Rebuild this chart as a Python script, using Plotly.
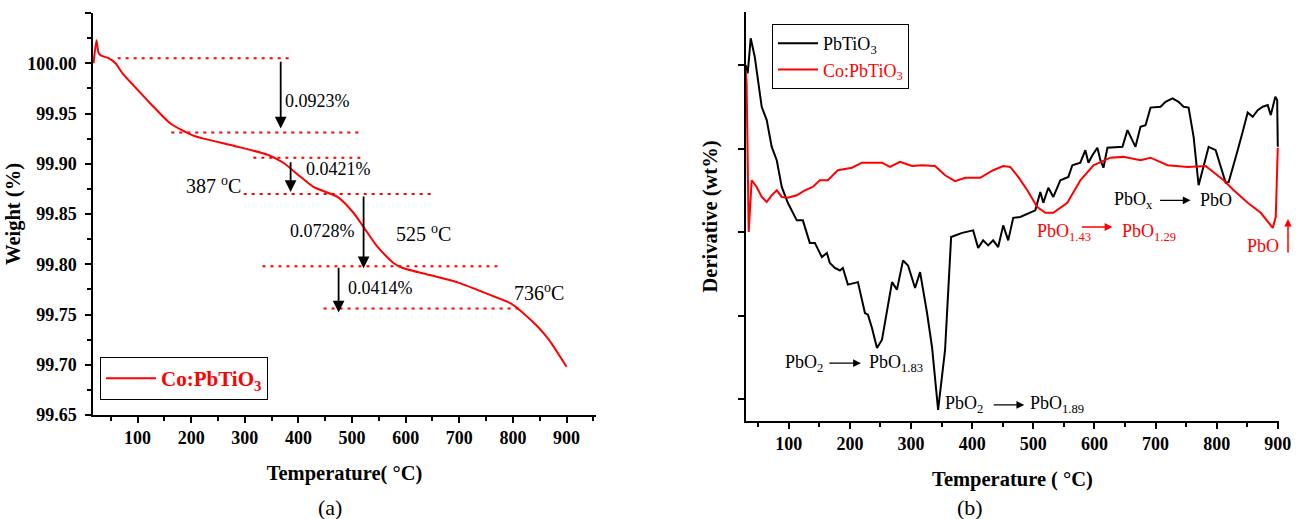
import plotly.graph_objects as go

# ---------------- (a) TGA weight curve of Co:PbTiO3 ----------------
tga_temp = [18, 23.5, 27, 31, 46, 59, 72, 92.5, 124, 161.5, 204, 279, 342.5, 372, 404,
            428, 473, 503, 521.6, 548, 578, 596, 647, 697, 745.5, 796, 820, 846, 867, 900]
tga_weight = [100.000, 100.023, 100.011, 100.008, 100.005, 100.000, 99.990, 99.978, 99.960,
              99.940, 99.928, 99.918, 99.909, 99.901, 99.887, 99.877, 99.867, 99.851, 99.837,
              99.817, 99.801, 99.796, 99.789, 99.782, 99.772, 99.761, 99.751, 99.738, 99.725,
              99.698]

# dotted step levels (weight) and their temperature extents
step_levels = [100.005, 99.931, 99.906, 99.870, 99.798, 99.756]
step_start = [63, 163, 316, 298, 333, 447]
step_end = [391, 516, 516, 647, 772, 815]

# loss arrows: temperature, weight from, weight to
loss_arrow_temp = [367, 385.5, 521.6, 475]
loss_arrow_from = [100.003, 99.903, 99.869, 99.798]
loss_arrow_to = [99.935, 99.872, 99.796, 99.752]

# text labels in panel (a)
a_labels = ["0.0923%", "0.0421%", "387 <sup>o</sup>C", "0.0728%", "525 <sup>o</sup>C",
            "0.0414%", "736<sup>o</sup>C"]
a_label_temp = [372, 410, 242, 445, 634, 488, 848]
a_label_weight = [99.962, 99.895, 99.879, 99.833, 99.831, 99.776, 99.772]
a_label_anchor = ["left", "left", "center", "center", "center", "left", "center"]
a_label_size = [18, 18, 20, 18, 20, 18, 20]

# ---------------- (b) DTG curves ----------------
pbt_temp = [29.5, 32.8, 37.7, 44.3, 55.7, 63.9, 72.1, 80.3, 88.5, 98.4, 113.1, 123, 134.4,
            142.6, 154.1, 162.3, 167.2, 175.4, 183.6, 188.5, 196.7, 213.1, 224.6, 229.5,
            236.1, 244.3, 252.5, 268.9, 277, 286.9, 295.1, 306.6, 314.8, 326.2, 334.4,
            344.3, 355.7, 365.6, 383.6, 401.6, 409.8, 418, 426.2, 434.4, 442.6, 450.8, 459,
            467.2, 478.7, 495.1, 503.3, 511.5, 516.4, 524.6, 532.8, 544.3, 557.4, 563.9,
            577, 585.2, 590.2, 596.7, 604.9, 609.8, 614.8, 621.3, 645.9, 654.1, 662.3,
            667.2, 675.4, 683.6, 691.8, 708.2, 716.4, 727.9, 737.7, 745.9, 754.1, 762.3,
            770.5, 778.7, 786.9, 798.4, 806.6, 814.8, 819.7, 827.9, 834.4, 842.6, 850.8,
            859, 867.2, 875.4, 883.6, 888.5, 896, 899, 900]
pbt_dtg = [4.00, 3.90, 4.32, 4.10, 3.50, 3.34, 3.02, 2.86, 2.54, 2.35, 2.14, 2.14, 1.87,
           1.87, 1.70, 1.75, 1.63, 1.57, 1.54, 1.57, 1.37, 1.40, 1.03, 1.01, 0.85, 0.61,
           0.71, 1.40, 1.31, 1.66, 1.60, 1.33, 1.52, 1.03, 0.62, -0.13, 0.59, 1.94, 1.99,
           2.02, 1.81, 1.90, 1.84, 1.90, 1.82, 2.08, 1.90, 2.17, 2.18, 2.23, 2.26, 2.48,
           2.35, 2.53, 2.42, 2.62, 2.66, 2.80, 2.83, 2.98, 2.83, 2.92, 3.01, 2.86, 2.77,
           3.01, 3.02, 3.22, 3.10, 3.02, 3.26, 3.28, 3.49, 3.50, 3.56, 3.60, 3.56, 3.50,
           3.49, 3.14, 2.56, 2.78, 3.02, 2.98, 2.78, 2.59, 2.60, 2.83, 2.98, 3.20, 3.43,
           3.38, 3.46, 3.50, 3.52, 3.40, 3.62, 3.58, 3.02]

co_temp = [29.5, 31, 34.4, 37.7, 39.3, 47.5, 55.7, 63.9, 72.1, 80.3, 88.5, 98.4, 113.1,
           126.2, 139.3, 150.8, 163.9, 180.3, 203.3, 219.7, 236.1, 252.5, 265.6, 282,
           301.6, 318, 339.3, 355.7, 372.1, 388.5, 413.1, 434.4, 450.8, 462.3, 475.4,
           490.2, 506.6, 519.7, 532.8, 555.7, 577, 598.4, 626.2, 647.5, 675.4, 691.8,
           719.7, 752.5, 782, 795.1, 811.5, 827.9, 850.8, 872.1, 891.8, 896.7, 900]
co_dtg = [3.94, 3.78, 2.00, 2.50, 2.62, 2.54, 2.42, 2.36, 2.44, 2.50, 2.42, 2.41, 2.44,
          2.50, 2.54, 2.62, 2.62, 2.74, 2.77, 2.83, 2.83, 2.83, 2.78, 2.84, 2.79, 2.80,
          2.79, 2.68, 2.61, 2.65, 2.65, 2.74, 2.79, 2.78, 2.66, 2.50, 2.30, 2.23, 2.23,
          2.35, 2.62, 2.80, 2.89, 2.90, 2.86, 2.89, 2.80, 2.78, 2.79, 2.71, 2.62, 2.50,
          2.35, 2.23, 2.05, 2.18, 3.01]

# reaction annotations in panel (b)
b_from = ["PbO<sub>2</sub>", "PbO<sub>2</sub>", "PbO<sub>x</sub>", "PbO<sub>1.43</sub>"]
b_to = ["PbO<sub>1.83</sub>", "PbO<sub>1.89</sub>", "PbO", "PbO<sub>1.29</sub>"]
b_color = ["black", "black", "black", "red"]
b_from_x = [124.6, 352.5, 629.5, 503.3]
b_arrow_x0 = [163.9, 432.8, 705, 577]
b_arrow_x1 = [218, 485.2, 757.4, 629.5]
b_to_x = [227.9, 491.8, 768.9, 642.6]
b_level = [0.42, -0.07, 2.38, 2.0]
b_arrow_level = [0.43, -0.07, 2.38, 2.06]

SERIF = "Liberation Serif"
W, H = 1296, 519


def px(xp):
    return xp / W


def py(yp):
    return 1 - yp / H


fig = go.Figure()

# ---- panel (a)
for lvl, s, e in zip(step_levels, step_start, step_end):
    fig.add_trace(go.Scatter(x=[s, e], y=[lvl, lvl], mode="lines", showlegend=False,
                             line=dict(color="red", width=2, dash="3px,5px"),
                             xaxis="x", yaxis="y", hoverinfo="skip"))
fig.add_trace(go.Scatter(x=tga_temp, y=tga_weight, mode="lines", name="Co:PbTiO<sub>3</sub>",
                         line=dict(color="red", width=2, shape="spline", smoothing=0.6),
                         xaxis="x", yaxis="y", legend="legend2"))

# ---- panel (b)
fig.add_trace(go.Scatter(x=pbt_temp, y=pbt_dtg, mode="lines", name="PbTiO<sub>3</sub>",
                         line=dict(color="black", width=2), xaxis="x2", yaxis="y2",
                         legend="legend"))
fig.add_trace(go.Scatter(x=co_temp, y=co_dtg, mode="lines",
                         name='<span style="color:red">Co:PbTiO<sub>3</sub></span>',
                         line=dict(color="red", width=2), xaxis="x2", yaxis="y2",
                         legend="legend"))

ann = []
for t, w0, w1 in zip(loss_arrow_temp, loss_arrow_from, loss_arrow_to):
    ann.append(dict(x=t, y=w1, ax=t, ay=w0, xref="x", yref="y", axref="x", ayref="y",
                    text="", showarrow=True, arrowhead=2, arrowsize=1.3, arrowwidth=1.8,
                    arrowcolor="black"))
for txt, t, w, anc, sz in zip(a_labels, a_label_temp, a_label_weight, a_label_anchor,
                              a_label_size):
    ann.append(dict(x=t, y=w, xref="x", yref="y", text=txt, showarrow=False, xanchor=anc,
                    font=dict(family=SERIF, size=sz, color="black")))

for f, to, c, fx, x0, x1, tx, lv, alv in zip(b_from, b_to, b_color, b_from_x, b_arrow_x0,
                                              b_arrow_x1, b_to_x, b_level, b_arrow_level):
    ann.append(dict(x=fx, y=lv, xref="x2", yref="y2", text=f, showarrow=False,
                    xanchor="left" if fx > 300 else "center",
                    font=dict(family=SERIF, size=18, color=c)))
    ann.append(dict(x=x1, y=alv, ax=x0, ay=alv, xref="x2", yref="y2", axref="x2", ayref="y2",
                    text="", showarrow=True, arrowhead=2, arrowsize=1.2, arrowwidth=1.3,
                    arrowcolor=c))
    ann.append(dict(x=tx, y=lv, xref="x2", yref="y2", text=to, showarrow=False,
                    xanchor="left", font=dict(family=SERIF, size=18, color=c)))
# final PbO label and upward arrow (red), just outside the plotting range
ann.append(dict(x=px(1281), y=py(246), xref="paper", yref="paper", text="PbO",
                showarrow=False, xanchor="right", yanchor="middle",
                font=dict(family=SERIF, size=18, color="red")))
ann.append(dict(x=px(1288), y=py(219), ax=0, ay=35, xref="paper", yref="paper",
                axref="pixel", ayref="pixel", text="", showarrow=True, arrowhead=2,
                arrowsize=1.0, arrowwidth=1.5, arrowcolor="red"))

# captions
ann.append(dict(x=px(316), y=py(507), xref="paper", yref="paper", text="(a)",
                showarrow=False, yanchor="middle",
                font=dict(family=SERIF, size=22, color="black")))
ann.append(dict(x=px(985), y=py(507), xref="paper", yref="paper", text="(b)",
                showarrow=False, yanchor="middle",
                font=dict(family=SERIF, size=22, color="black")))

tickfont = dict(family=SERIF, size=18, color="black", weight="bold")
titlefont = dict(family=SERIF, size=20.5, color="black", weight="bold")
axis_common = dict(showline=True, linecolor="black", linewidth=1.5, showgrid=False,
                   zeroline=False, ticks="outside", ticklen=6, tickwidth=1.5,
                   tickcolor="black", tickfont=tickfont, automargin=False)

fig.update_layout(
    width=W, height=H, margin=dict(l=0, r=0, t=0, b=0, autoexpand=False),
    paper_bgcolor="white", plot_bgcolor="white", showlegend=True,
    xaxis=dict(domain=[px(93), px(596)], range=[17, 955], anchor="y",
               tickvals=[100, 200, 300, 400, 500, 600, 700, 800, 900],
               minor=dict(dtick=50, tick0=0, ticks="outside", ticklen=4, tickcolor="black"),
               title=dict(text="Temperature( °C)", font=titlefont, standoff=18),
               **axis_common),
    yaxis=dict(domain=[py(415), py(13)], range=[99.65, 100.05], anchor="x",
               tickvals=[99.65, 99.70, 99.75, 99.80, 99.85, 99.90, 99.95, 100.00, 100.05],
               ticktext=["99.65", "99.70", "99.75", "99.80", "99.85", "99.90", "99.95",
                         "100.00", ""],
               minor=dict(dtick=0.025, tick0=99.65, ticks="outside", ticklen=4,
                          tickcolor="black"),
               ticklabelstandoff=5,
               title=dict(text="Weight (%)", font=titlefont, standoff=1),
               **axis_common),
    xaxis2=dict(domain=[px(746), px(1279)], range=[30, 902], anchor="y2",
                tickvals=[100, 200, 300, 400, 500, 600, 700, 800, 900],
                minor=dict(dtick=50, tick0=0, ticks="outside", ticklen=4, tickcolor="black"),
                title=dict(text="Temperature ( °C)", font=titlefont, standoff=18),
                **axis_common),
    yaxis2=dict(domain=[py(421), py(12)], range=[-0.263, 4.635], anchor="x2",
                tickvals=[0, 1, 2, 3, 4], showticklabels=False,
                title=dict(text="Derivative (wt%)", font=titlefont, standoff=15),
                **axis_common),
    legend=dict(x=px(772), y=py(24), xanchor="left", yanchor="top",
                bordercolor="black", borderwidth=1, bgcolor="white",
                font=dict(family=SERIF, size=18, color="black"), itemwidth=40,
                tracegroupgap=0),
    legend2=dict(x=px(100), y=py(357), xanchor="left", yanchor="top",
                 bordercolor="black", borderwidth=1, bgcolor="white",
                 font=dict(family=SERIF, size=21, color="red", weight="bold"), itemwidth=50),
    annotations=ann,
)

fig.write_html("out.html", config={"displayModeBar": False},
               post_script="document.body.style.margin='0';document.body.style.overflow='hidden';")
